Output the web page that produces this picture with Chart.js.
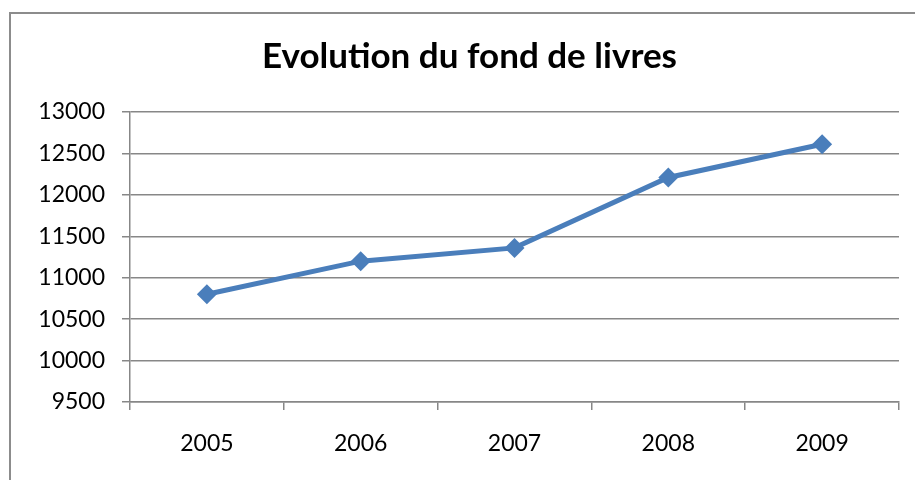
<!DOCTYPE html>
<html lang="fr">
<head>
    <meta charset="utf-8" />
    <title>Evolution du fond de livres</title>
    <style>
        html, body { margin: 0; padding: 0; background: #fff; overflow: hidden; }
        #frame {
            position: absolute; left: 9px; top: 12px;
            width: 1000px; height: 1000px;
            border: 2px solid #8c8c8c; box-sizing: border-box;
        }
        #wrap { position: absolute; left: 0; top: 0; width: 915px; height: 480px; }
    </style>
</head>
<body>
    <div id="frame"></div>
    <div id="wrap"><canvas id="chart"></canvas></div>

    <script src="https://cdn.jsdelivr.net/npm/chart.js"></script>
    <script>
        // data
        const years = ['2005', '2006', '2007', '2008', '2009'];
        const livres = [10800, 11200, 11360, 12210, 12610];
        const yMin = 9500, yMax = 13000, yStep = 500;

        const gridColor = '#878787';
        const lineColor = '#4a7ebb';
        const fontFamily = 'Lato, Calibri, "Open Sans", sans-serif';

        const ctx = document.getElementById('chart').getContext('2d');
        const chart = new Chart(ctx, {
            type: 'line',
            data: {
                labels: years,
                datasets: [{
                    label: 'Fond de livres',
                    data: livres,
                    borderColor: lineColor,
                    backgroundColor: lineColor,
                    borderWidth: 5,
                    pointStyle: 'rectRot',
                    pointRadius: 10,
                    pointBorderWidth: 0,
                    fill: false,
                    tension: 0
                }]
            },
            options: {
                responsive: true,
                maintainAspectRatio: false,
                animation: false,
                // left padding + y axis width = 130 (plot left edge), keeps title centred on the frame
                layout: { padding: { left: 40, right: 16, top: 0, bottom: 0 } },
                plugins: {
                    legend: { display: false },
                    tooltip: { enabled: false },
                    title: {
                        display: true,
                        text: 'Evolution du fond de livres',
                        color: '#000',
                        font: { family: fontFamily, size: 35, weight: 'bold', lineHeight: 1.2 },
                        padding: { top: 36, bottom: 34 }
                    }
                },
                scales: {
                    x: {
                        offset: true,
                        grid: {
                            offset: true,
                            drawOnChartArea: false,
                            drawTicks: true,
                            tickLength: 8,
                            color: gridColor,
                            lineWidth: 1.5
                        },
                        border: { color: gridColor, width: 1.5 },
                        ticks: {
                            color: '#000',
                            padding: 20,
                            maxRotation: 0,
                            font: { family: fontFamily, size: 23 }
                        },
                        afterFit: function (scale) { scale.height = 78; }
                    },
                    y: {
                        min: yMin,
                        max: yMax,
                        grid: {
                            color: gridColor,
                            lineWidth: 1.5,
                            tickLength: 8
                        },
                        border: { color: gridColor, width: 1.5 },
                        ticks: {
                            stepSize: yStep,
                            color: '#000',
                            padding: 17,
                            font: { family: fontFamily, size: 23 },
                            callback: function (value) { return String(value); }
                        },
                        afterFit: function (scale) { scale.width = 90; }
                    }
                }
            }
        });
    </script>
</body>
</html>
